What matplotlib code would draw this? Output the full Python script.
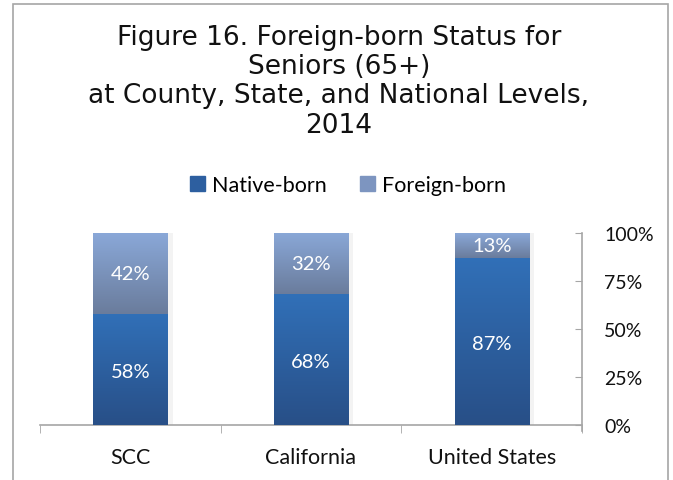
import matplotlib
matplotlib.use("Agg")
import matplotlib.pyplot as plt
import numpy as np
from matplotlib.patches import Rectangle
from matplotlib.colors import LinearSegmentedColormap

categories = ["SCC", "California", "United States"]
native_born = [58, 68, 87]
foreign_born = [42, 32, 13]
yticks = [0, 25, 50, 75, 100]
ytick_labels = ["0%", "25%", "50%", "75%", "100%"]
title = "Figure 16. Foreign-born Status for\nSeniors (65+)\nat County, State, and National Levels,\n2014"

W, H = 673, 481
fig = plt.figure(figsize=(W / 100, H / 100), dpi=100)
fig.patch.set_facecolor("white")

# outer border
border = Rectangle((13 / W, -0.05), (668 - 13) / W, (H - 5) / H + 0.05,
                   transform=fig.transFigure, fill=False, edgecolor="#a6a6a6", lw=1.2)
fig.add_artist(border)

fig.text(339 / W, 1 - 25 / H, title, ha="center", va="top", fontsize=19,
         family="DejaVu Sans", linespacing=1.16, color="#111111")

ax = fig.add_axes([40 / W, 1 - 426 / H, (582 - 40) / W, (426 - 234) / H])
x = np.arange(len(categories))
bw = 0.41
cmap_nat = LinearSegmentedColormap.from_list("nat", ["#284f87", "#3170b8"])
cmap_for = LinearSegmentedColormap.from_list("for", ["#6a7c9c", "#8aa8d8"])

b1 = ax.bar(x, native_born, bw, color="#2d5fa0", zorder=2)
b2 = ax.bar(x, foreign_born, bw, bottom=native_born, color="#7d95c0", zorder=2)

grad = np.linspace(0, 1, 256).reshape(-1, 1)
for bars, cmap in ((b1, cmap_nat), (b2, cmap_for)):
    for p in bars:
        x0, y0 = p.get_x(), p.get_y()
        w, h = p.get_width(), p.get_height()
        # soft shadow on the right
        ax.add_patch(Rectangle((x0 + w, y0), 0.03, h, color="#f3f3f3", lw=0, zorder=1))
        im = ax.imshow(grad, cmap=cmap, extent=(x0, x0 + w, y0, y0 + h),
                       origin="lower", aspect="auto", zorder=3)
        im.set_clip_path(p)

for i in range(len(categories)):
    ax.text(x[i], native_born[i] / 2 - 1, f"{native_born[i]}%", ha="center", va="center",
            color="white", fontsize=14.5, family="Lato", zorder=5)
    ax.text(x[i], native_born[i] + foreign_born[i] / 2, f"{foreign_born[i]}%", ha="center",
            va="center", color="white", fontsize=14.5, family="Lato", zorder=5)

ax.set_xlim(-0.5, len(categories) - 0.5)
ax.set_ylim(0, 100)
ax.yaxis.tick_right()
ax.set_yticks(yticks)
ax.set_yticklabels(ytick_labels, family="Lato", fontsize=14, color="#111111")
ax.tick_params(axis="y", direction="in", length=5, color="#a6a6a6", pad=16)
ax.set_xticks(x)
ax.set_xticklabels(categories, family="Lato", fontsize=15.5, color="#111111")
ax.tick_params(axis="x", length=0, pad=16)
ax.set_xticks(np.arange(-0.5, len(categories)), minor=True)
ax.tick_params(axis="x", which="minor", length=6, color="#a6a6a6", direction="out")
for s in ("top", "left"):
    ax.spines[s].set_visible(False)
ax.spines["right"].set_color("#a6a6a6")
ax.spines["bottom"].set_color("#a6a6a6")
ax.spines["right"].set_linewidth(1.2)
ax.spines["bottom"].set_linewidth(1.2)
ax.spines["right"].set_bounds(-3, 100)

leg = fig.legend([b1, b2], ["Native-born", "Foreign-born"], loc="center",
                 bbox_to_anchor=(348 / W, 1 - 186 / H), ncol=2, frameon=False,
                 prop={"family": "Lato", "size": 15.5}, handlelength=0.7, handleheight=0.7,
                 handletextpad=0.35, columnspacing=1.5)
leg.legend_handles[0].set_color("#2d5fa0")
leg.legend_handles[1].set_color("#7d95c0")

fig.savefig("out.png", dpi=100)
